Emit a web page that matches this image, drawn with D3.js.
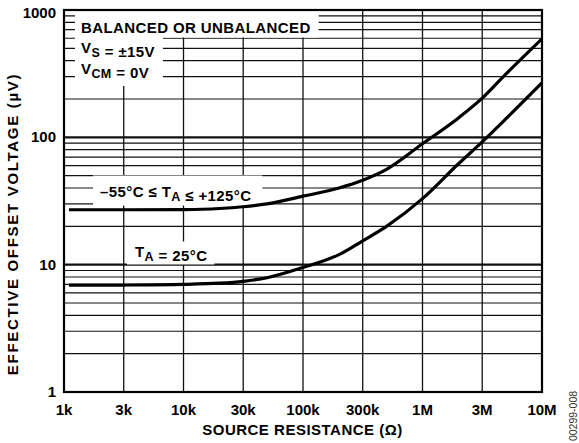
<!DOCTYPE html>
<html>
<head>
<meta charset="utf-8">
<script src="https://cdn.jsdelivr.net/npm/d3@7/dist/d3.min.js"></script>
<style>
  html, body { margin: 0; padding: 0; background: #fff; }
  svg { display: block; }
  text { font-family: "Liberation Sans", Arial, Helvetica, sans-serif; font-weight: bold; fill: #000; }
</style>
</head>
<body>
<svg id="chart" width="579" height="443"></svg>
<script>
// ---- data ----
const xTickValues = [1e3, 3.16e3, 1e4, 3.16e4, 1e5, 3.16e5, 1e6, 3.16e6, 1e7];
const xTickLabels = ["1k", "3k", "10k", "30k", "100k", "300k", "1M", "3M", "10M"];
const yTickValues = [1, 10, 100, 1000];
const yTickLabels = ["1", "10", "100", "1000"];

const resistance     = [1.1e3, 3.16e3, 1e4, 2e4, 3.16e4, 5e4, 1e5, 2e5, 3.16e5, 5e5, 1e6, 2e6, 3.16e6, 5e6, 1e7];
const offsetFullTemp = [27, 27, 27.1, 27.6, 28.5, 30, 34.5, 40, 46, 56, 89, 142, 203, 315, 594];
const offset25C      = [6.9, 6.92, 7.0, 7.15, 7.4, 7.9, 9.5, 12, 15.4, 20, 33, 62, 92, 140, 268];

// ---- layout ----
const W = 579, H = 443;
const plot = { left: 64, right: 542, top: 10, bottom: 392 };

const svg = d3.select("#chart");
svg.append("rect").attr("width", W).attr("height", H).attr("fill", "#fff");

const x = d3.scaleLog().domain([1e3, 1e7]).range([plot.left, plot.right]);
const y = d3.scaleLog().domain([1, 1000]).range([plot.bottom, plot.top]);

svg.append("clipPath").attr("id", "clip")
  .append("rect").attr("x", plot.left).attr("y", plot.top)
  .attr("width", plot.right - plot.left).attr("height", plot.bottom - plot.top);

// horizontal grid
const gGrid = svg.append("g");
const majors = new Set(yTickValues);
gGrid.selectAll("line.h").data(y.ticks().filter(v => v > 1 && v < 1000))
  .enter().append("line")
  .attr("x1", plot.left).attr("x2", plot.right)
  .attr("y1", d => y(d)).attr("y2", d => y(d))
  .attr("stroke", "#111")
  .attr("stroke-width", d => majors.has(d) ? 2.2 : 1.2);

// vertical grid
gGrid.selectAll("line.v").data(xTickValues.slice(1, -1))
  .enter().append("line")
  .attr("y1", plot.top).attr("y2", plot.bottom)
  .attr("x1", d => x(d)).attr("x2", d => x(d))
  .attr("stroke", "#111").attr("stroke-width", 1.3);

// labels with white boxes
const gBox = svg.append("g");
const gCurves = svg.append("g").attr("clip-path", "url(#clip)");
const gLab = svg.append("g");

function addLines(lines) {
  const g = gLab.append("g");
  lines.forEach(l => {
    const t = g.append("text").attr("x", l.x).attr("y", l.y)
      .style("font-size", "15px").style("letter-spacing", "0.4px");
    l.parts.forEach(p => {
      if (p.sub) {
        t.append("tspan").attr("dy", 4).style("font-size", "12.5px").text(p.t);
        t.append("tspan").attr("dy", -4).text("");
      } else {
        t.append("tspan").text(p.t);
      }
    });
  });
  return g;
}
function boxFor(g, pad) {
  const b = g.node().getBBox();
  gBox.append("rect")
    .attr("x", b.x - pad[3]).attr("y", b.y - pad[0])
    .attr("width", b.width + pad[1] + pad[3])
    .attr("height", b.height + pad[0] + pad[2])
    .attr("fill", "#fff");
}

const g1 = addLines([{ x: 81, y: 32.5, parts: [{ t: "BALANCED OR UNBALANCED" }] }]);
boxFor(g1, [9, 8, 2, 6]);
const g2 = addLines([
  { x: 81, y: 53, parts: [{ t: "V" }, { t: "S", sub: true }, { t: " = ±15V" }] },
  { x: 81, y: 74, parts: [{ t: "V" }, { t: "CM", sub: true }, { t: " = 0V" }] }
]);
boxFor(g2, [2, 8, 5, 6]);
const g3 = addLines([{ x: 100, y: 196.5, parts: [{ t: "–55°C ≤ T" }, { t: "A", sub: true }, { t: " ≤ +125°C" }] }]);
boxFor(g3, [7, 11, 2, 7]);
const g4 = addLines([{ x: 135, y: 256.5, parts: [{ t: "T" }, { t: "A", sub: true }, { t: " = 25°C" }] }]);
boxFor(g4, [1, 7, 1, 8]);

// curves
const line = d3.line()
  .x(d => x(d[0])).y(d => y(d[1]))
  .curve(d3.curveMonotoneX);
[offsetFullTemp, offset25C].forEach(series => {
  gCurves.append("path")
    .attr("d", line(resistance.map((r, i) => [r, series[i]])))
    .attr("fill", "none").attr("stroke", "#000").attr("stroke-width", 3.2)
    .attr("stroke-linejoin", "round");
});

// frame
svg.append("rect")
  .attr("x", plot.left).attr("y", plot.top)
  .attr("width", plot.right - plot.left).attr("height", plot.bottom - plot.top)
  .attr("fill", "none").attr("stroke", "#000").attr("stroke-width", 2.2);

// x tick labels
svg.append("g").selectAll("text").data(xTickValues).enter().append("text")
  .attr("x", d => x(d)).attr("y", 414.5)
  .attr("text-anchor", "middle")
  .style("font-size", "15px")
  .text((d, i) => xTickLabels[i]);

// y tick labels
svg.append("g").selectAll("text").data(yTickValues).enter().append("text")
  .attr("x", 56).attr("y", d => Math.max(y(d) + 5, 17.5))
  .attr("text-anchor", "end")
  .style("font-size", "15px")
  .text((d, i) => yTickLabels[i]);

// axis titles
svg.append("text")
  .attr("x", 302.5).attr("y", 434.5)
  .attr("text-anchor", "middle")
  .style("font-size", "15px").style("letter-spacing", "0.5px")
  .text("SOURCE RESISTANCE (Ω)");

svg.append("text")
  .attr("transform", "translate(17.5,224) rotate(-90)")
  .attr("text-anchor", "middle")
  .style("font-size", "15px").style("letter-spacing", "1.7px")
  .text("EFFECTIVE OFFSET VOLTAGE (µV)");

// figure code
svg.append("text")
  .attr("transform", "translate(577,416) rotate(-90)")
  .attr("text-anchor", "middle")
  .style("font-size", "10.5px").style("font-weight", "normal")
  .style("fill", "#333")
  .text("00299-008");
</script>
</body>
</html>
